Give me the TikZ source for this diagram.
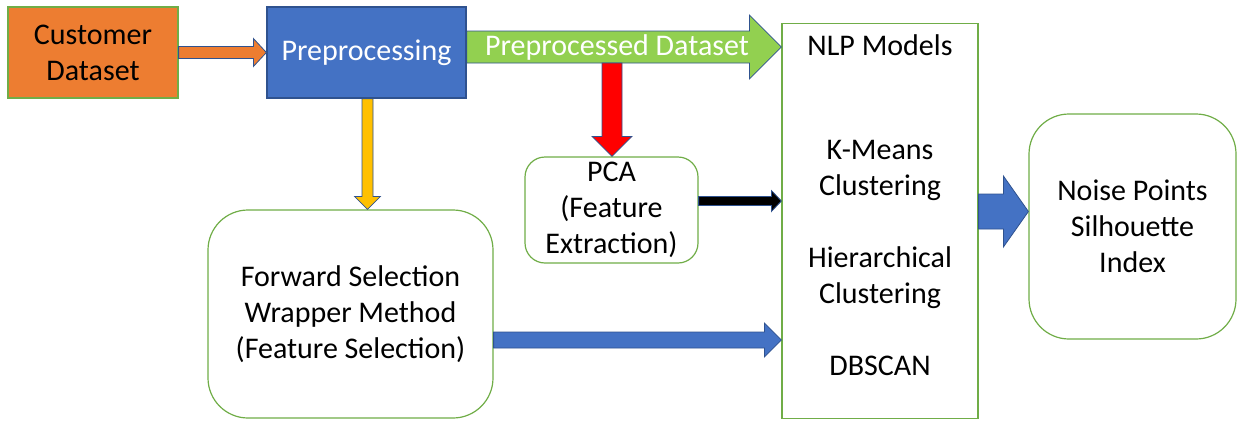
\documentclass[tikz,border=0pt]{standalone}
\usepackage{fontspec}
\setmainfont{Carlito}
\usetikzlibrary{calc}
\definecolor{gbord}{HTML}{70AD47}
\definecolor{dblue}{HTML}{2F528F}
\definecolor{corange}{HTML}{ED7D31}
\definecolor{cblue}{HTML}{4472C4}
\definecolor{cgreen}{HTML}{92D050}
\definecolor{cyellow}{HTML}{FFC000}
\newcommand\harr[6]{\draw[#1] let \p1=#2, \p2=#3 in (\x1,\y1+#4) -- (\x2-#6,\y1+#4) -- (\x2-#6,\y1+#5) -- (\x2,\y1) -- (\x2-#6,\y1-#5) -- (\x2-#6,\y1-#4) -- (\x1,\y1-#4) -- cycle;}
\newcommand\varr[6]{\draw[#1] let \p1=#2, \p2=#3 in (\x1+#4,\y1) -- (\x1+#4,\y2+#6) -- (\x1+#5,\y2+#6) -- (\x1,\y2) -- (\x1-#5,\y2+#6) -- (\x1-#4,\y2+#6) -- (\x1-#4,\y1) -- cycle;}
\tikzset{
  box/.style={draw=gbord, line width=1.2pt, fill=white, inner sep=0pt, align=center, font=\fontsize{30}{36}\selectfont},
  txt/.style={inner sep=0pt, align=center, font=\fontsize{30}{36}\selectfont},
  arr/.style={draw=dblue, line width=0.8pt, line join=miter},
}
\begin{document}
\begin{tikzpicture}[x=1pt,y=-1pt]
\useasboundingbox (0,0) rectangle (1246,421);
\node[box, fill=corange, minimum width=170pt, minimum height=91pt] (cust) at (93,52.5) {Customer\\Dataset};
\node[box, draw=dblue, fill=cblue, text=white, minimum width=199pt, minimum height=91pt] (prep) at (366.5,52.5) {Preprocessing};
\node[box, rounded corners=20pt, minimum width=173pt, minimum height=106pt] (pca) at (611.5,210) {PCA\\(Feature\\Extraction)};
\node[box, rounded corners=40pt, minimum width=285pt, minimum height=208pt] (fs) at (350.5,314) {Forward Selection\\Wrapper Method\\(Feature Selection)};
\node[box, minimum width=196pt, minimum height=395pt] (nlp) at (880,221) {};
\node[txt] (nlpt) at (880,45) {NLP Models};
\node[txt] (km) at (880,170) {K-Means\\Clustering};
\node[txt] (hc) at (880,277.5) {Hierarchical\\Clustering};
\node[txt] (db) at (880,366) {DBSCAN};
\node[box, rounded corners=40pt, minimum width=207pt, minimum height=225pt] (noise) at (1132.5,226.5) {Noise Points\\Silhouette\\Index};
\coordinate (rs) at (612,63);
% arrows
\harr{arr, fill=corange}{(cust.east)}{(prep.west)}{6pt}{14pt}{13pt}
\harr{arr, fill=cgreen}{([yshift=5.5pt]prep.east)}{(nlp.west)}{16pt}{32pt}{32pt}
\node[txt, text=white] (ppd) at (617,47) {Preprocessed Dataset};
\varr{arr, fill=red}{(rs)}{(pca.north)}{10pt}{20pt}{20pt}
\varr{arr, fill=cyellow}{([xshift=1pt]prep.south)}{(fs.north)}{5.5pt}{13pt}{13pt}
\harr{arr, fill=black}{([yshift=9pt]pca.east)}{(nlp.west)}{4.5pt}{10.5pt}{10pt}
\harr{arr, fill=cblue}{([yshift=-26pt]fs.east)}{(nlp.west)}{8pt}{17pt}{17pt}
\harr{arr, fill=cblue}{([yshift=9.5pt]nlp.east)}{(noise.west)}{17.5pt}{35.5pt}{25pt}
\end{tikzpicture}
\end{document}
